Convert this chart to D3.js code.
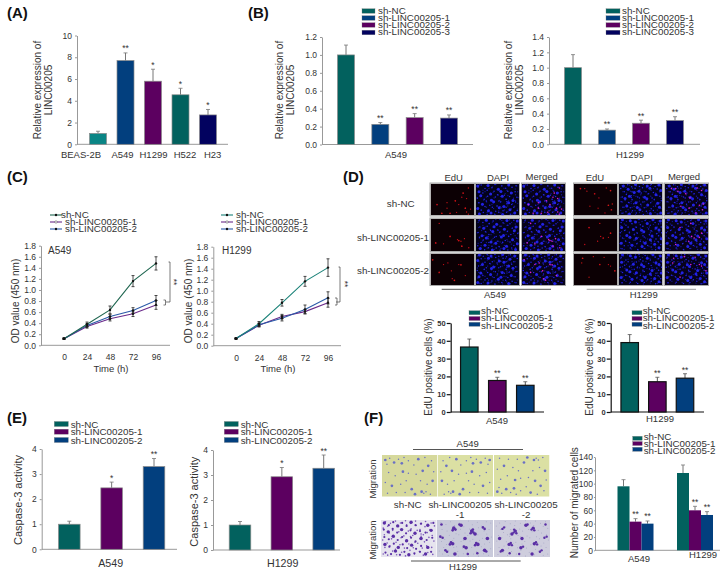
<!DOCTYPE html>
<html><head><meta charset="utf-8">
<script src="https://cdnjs.cloudflare.com/ajax/libs/d3/7.8.5/d3.min.js"></script>
<style>
html,body{margin:0;padding:0;background:#fff}
svg{display:block}
text{font-family:"Liberation Sans",Arial,sans-serif;fill:#333}
</style></head><body><svg id="c" width="720" height="583"></svg>
<script>
// ---------- data ----------
const cellLines = ["BEAS-2B","A549","H1299","H522","H23"];
const cellExpr = [1.0,7.7,5.8,4.55,2.7];
const cellExprTop = [1.2,8.4,6.9,5.15,3.2];
const cellStars = ["","**","*","*","*"];
const shThree = ["sh-NC","sh-LINC00205-1","sh-LINC00205-2","sh-LINC00205-3"];
const shTwo = ["sh-NC","sh-LINC00205-1","sh-LINC00205-2"];
const bA549 = [1.0,0.225,0.30,0.295];
const bA549Top = [1.11,0.245,0.345,0.33];
const bH1299 = [1.0,0.185,0.275,0.31];
const bH1299Top = [1.17,0.2,0.315,0.36];
const bStars = ["","**","**","**"];
const hours = [0,24,48,72,96];
const odA549 = [[0.12,0.38,0.64,1.16,1.48],[0.12,0.34,0.48,0.57,0.73],[0.12,0.36,0.52,0.63,0.81]];
const odA549Err = [[0.01,0.04,0.07,0.10,0.12],[0.01,0.03,0.04,0.05,0.08],[0.01,0.03,0.04,0.05,0.09]];
const odH1299 = [[0.13,0.40,0.78,1.17,1.42],[0.13,0.37,0.53,0.62,0.78],[0.13,0.38,0.50,0.66,0.87]];
const odH1299Err = [[0.01,0.04,0.06,0.09,0.16],[0.01,0.03,0.04,0.04,0.08],[0.01,0.03,0.05,0.08,0.11]];
const eduA549 = [36.5,17.7,15];
const eduA549Top = [41,19.5,17];
const eduH1299 = [39,17,19];
const eduH1299Top = [43.5,19.5,21.5];
const twoStars = ["","**","**"];
const casA549 = [1.0,2.45,3.3];
const casA549Top = [1.12,2.68,3.62];
const casH1299 = [1.0,2.93,3.27];
const casH1299Top = [1.14,3.3,3.8];
const casStars = ["","*","**"];
const migCells = [[96,43,40],[116,60,53]];
const migTop = [[106,47.5,44],[128,66,58]];
const migGroups = ["A549","H1299"];
const migStars = ["","**","**"];
const redA0=[[15,66],[38,77],[38,60],[57,54],[72,43],[83,47],[80,77],[83,89],[87,96],[45,93],[65,66],[87,14],[26,93],[60,90],[92,80],[75,30]];
const redA1=[[12,75],[30,78],[62,65],[65,68],[70,70],[78,62],[72,85],[88,90],[20,15],[45,55]];
const redA2=[[5,20],[30,35],[65,35],[70,36],[48,55],[50,80],[20,60],[80,70],[40,30],[55,85]];
const redH0=[[15,16],[25,16],[30,24],[48,32],[58,45],[75,14],[85,22],[89,64],[56,77],[87,82],[72,92],[37,71],[80,68]];
const redH1=[[35,28],[60,15],[62,55],[68,60],[80,58],[55,70],[85,45],[25,80]];
const redH2=[[20,15],[18,30],[45,10],[60,35],[80,35],[85,40],[95,55],[35,75],[70,12]];
const blueField=[[4,8],[12,5],[21,16],[28,6],[37,13],[44,3],[52,18],[60,8],[69,15],[76,5],[84,12],[93,7],[7,26],[16,30],[26,21],[34,33],[42,24],[50,35],[58,25],[66,37],[74,24],[82,30],[91,26],[3,46],[11,38],[19,49],[27,40],[36,52],[45,42],[53,55],[61,40],[70,49],[78,41],[86,53],[95,43],[6,60],[15,65],[24,55],[32,68],[41,57],[49,70],[57,58],[65,72],[72,56],[72,62],[76,60],[83,66],[92,58],[4,78],[12,83],[21,72],[29,85],[38,74],[46,87],[54,76],[63,85],[70,74],[79,82],[88,74],[96,84],[8,95],[17,91],[26,97],[35,92],[44,98],[53,91],[62,97],[71,90],[80,96],[90,92]];
const violetField=[[6,12],[14,8],[9,22],[22,18],[30,10],[40,6],[36,20],[48,14],[58,24],[66,10],[78,6],[90,14],[84,26],[12,42],[24,50],[38,40],[48,44],[62,46],[74,38],[94,40],[6,66],[18,74],[34,70],[44,62],[54,82],[70,62],[82,70],[92,62],[10,92],[26,90],[72,88],[76,92],[80,88],[60,94],[88,94],[42,90]];
const purpleDense=[[6,8],[14,14],[22,6],[30,16],[38,8],[46,16],[54,6],[62,14],[72,10],[84,14],[94,8],[5,26],[13,32],[21,24],[29,34],[37,26],[45,36],[53,28],[61,36],[70,30],[80,34],[90,28],[6,46],[14,52],[22,44],[30,54],[38,46],[46,56],[54,48],[62,58],[72,50],[82,54],[92,48],[7,66],[15,72],[23,64],[31,74],[39,66],[47,76],[55,68],[63,78],[72,70],[84,74],[8,88],[18,92],[26,84],[34,94],[42,86],[50,94],[60,90],[70,86],[80,92],[90,86]];
const purpleClusters=[[30,22],[33,26],[28,28],[62,30],[65,34],[60,36],[68,38],[64,26],[25,60],[28,64],[23,66],[70,62],[73,66],[68,68],[48,72],[52,75],[15,82],[18,86],[85,82],[88,85],[40,12],[43,14],[82,20],[85,24],[90,50],[6,45],[10,48],[50,50],[8,12],[55,92],[32,92],[72,90]];

// ---------- palette / helpers ----------
const teal="#02615e",blue="#023f7e",purple="#5c0060",navy="#02025f",cyan="#0a8585";
const palette4=[teal,blue,purple,navy];
const palette3=[teal,purple,blue];
const svg=d3.select("#c");
const FONT=9.8;

function label(t,x,y,o={}){
  const e=svg.append("text").text(t).attr("x",x).attr("y",y)
    .attr("text-anchor",o.anchor||"middle").attr("font-size",o.size||FONT);
  if(o.bold)e.attr("font-weight","bold").style("fill","#111");
  if(o.rot)e.attr("transform",`rotate(-90 ${x} ${y})`);
  return e;
}
function yLabel(lines,x,y,size){
  lines.forEach((l,i)=>label(l,x+i*11,y,{rot:true,size:size||10}));
}
function legend(names,colors,o){
  names.forEach((n,i)=>{
    const sy=o.sy[i];
    svg.append("rect").attr("x",o.x0).attr("y",sy-o.h/2).attr("width",o.w).attr("height",o.h)
       .attr("fill",colors[i]).attr("stroke","#777").attr("stroke-width",.3);
    label(n,o.tx,o.ty[i]+3.5,{anchor:"start"});
  });
}
function styleAxis(g,col,w,size){
  g.selectAll("text").style("font-size",size+"px").style("font-family",'"Liberation Sans",Arial,sans-serif').style("fill","#333");
  g.selectAll("path,line").attr("stroke",col).attr("stroke-width",w);
}
function barPanel(o){
  const y=d3.scaleLinear().domain([0,o.max]).range([o.y0,o.yTop]);
  const x=d3.scalePoint().domain(o.names).range([o.first,o.last]);
  const ax=svg.append("g").attr("transform",`translate(${o.ax},0)`)
    .call(d3.axisLeft(y).tickValues(o.ticks).tickFormat(o.fmt).tickSize(o.tick||2).tickPadding(o.pad||3).tickSizeOuter(0));
  styleAxis(ax,o.axisCol||"#999",o.axisW||1,o.fs||8.5);
  if(o.boldTicks)ax.selectAll("text").style("font-weight","bold");
  svg.append("line").attr("x1",o.ax).attr("x2",o.end).attr("y1",o.y0).attr("y2",o.y0)
     .attr("stroke",o.axisCol||"#999").attr("stroke-width",o.axisW||1);
  svg.selectAll(null).data(o.names).enter().append("line")
     .attr("x1",d=>x(d)).attr("x2",d=>x(d)).attr("y1",(d,i)=>y(o.top[i])).attr("y2",(d,i)=>y(o.values[i]))
     .attr("stroke",o.errCol||"#777").attr("stroke-width",1);
  svg.selectAll(null).data(o.names).enter().append("line")
     .attr("x1",d=>x(d)-2).attr("x2",d=>x(d)+2).attr("y1",(d,i)=>y(o.top[i])).attr("y2",(d,i)=>y(o.top[i]))
     .attr("stroke",o.errCol||"#777").attr("stroke-width",.8);
  svg.selectAll(null).data(o.names).enter().append("rect")
     .attr("x",d=>x(d)-o.bw/2).attr("width",o.bw)
     .attr("y",(d,i)=>y(o.values[i])).attr("height",(d,i)=>o.y0-y(o.values[i]))
     .attr("fill",(d,i)=>o.colors[i]).attr("stroke",o.stroke||"#8a8a8a").attr("stroke-width",o.sw||.7);
  svg.selectAll(null).data(o.names).enter().append("text")
     .attr("x",d=>x(d)).attr("y",(d,i)=>y(o.top[i])-(o.starGap||1.5)).attr("text-anchor","middle")
     .attr("font-size",8.5).text((d,i)=>o.stars[i]);
  return {x,y};
}
const f0=d3.format("d"),f1=d3.format(".1f");

// ---------- panel letters ----------
[["(A)",7,18],["(B)",248,18],["(C)",7,182],["(D)",343,182],["(E)",7,423],["(F)",364,423]]
  .forEach(p=>label(p[0],p[1],p[2],{anchor:"start",size:15,bold:true}));

// ---------- A ----------
const pa=barPanel({names:cellLines,values:cellExpr,top:cellExprTop,stars:cellStars,colors:[cyan,blue,purple,teal,navy],
  ax:77,end:228,y0:144.3,yTop:35.5,max:10,ticks:d3.range(0,11,2),fmt:f0,first:98,last:208,bw:17});
const cellLabelOffset=[-17,-3,0.5,4.5,4.7];
cellLines.forEach((c,i)=>label(c,pa.x(c)+cellLabelOffset[i],158,{size:9.5}));
yLabel(["Relative expression of","LINC00205"],41,90);

// ---------- B ----------
barPanel({names:shThree,values:bA549,top:bA549Top,stars:bStars,colors:palette4,
  ax:322,end:473,y0:144.5,yTop:37,max:1.2,ticks:d3.range(0,1.21,.2),fmt:f1,first:346,last:449,bw:17});
label("A549",396,158,{size:9.5});
yLabel(["Relative expression of","LINC00205"],283,90);
legend(shThree,palette4,{x0:362,w:13,h:4.5,tx:378,sy:[11,18,25,32.5],ty:[10.5,17.5,24.5,31.5]});
barPanel({names:shThree,values:bH1299,top:bH1299Top,stars:bStars,colors:palette4,
  ax:549,end:700,y0:144.3,yTop:37,max:1.4,ticks:d3.range(0,1.41,.2),fmt:f1,first:573,last:675,bw:17});
label("H1299",630,158,{size:9.5});
yLabel(["Relative expression of","LINC00205"],512,90);
legend(shThree,palette4,{x0:606,w:14,h:4.5,tx:622,sy:[11,18,25,32.5],ty:[10.5,17.5,24.5,31.5]});

// ---------- C ----------
function linePanel(o){
  const y=d3.scaleLinear().domain([0,1.8]).range([o.y0,o.yTop]);
  const x=d3.scaleLinear().domain([0,96]).range([o.x0,o.x1]);
  const ax=svg.append("g").attr("transform",`translate(${o.ax},0)`)
    .call(d3.axisLeft(y).tickValues(d3.range(0,1.81,.2)).tickFormat(f1).tickSize(2).tickSizeOuter(0));
  styleAxis(ax,"#999",1,8.5);
  svg.append("line").attr("x1",o.ax).attr("x2",o.end).attr("y1",o.y0).attr("y2",o.y0).attr("stroke","#999");
  const bx=svg.append("g").attr("transform",`translate(0,${o.y0})`)
    .call(d3.axisBottom(x).tickValues(hours).tickFormat(f0).tickSize(0).tickPadding(9));
  bx.select(".domain").remove();
  styleAxis(bx,"#999",1,8.5);
  const line=d3.line().x((d,i)=>x(hours[i])).y(d=>y(d));
  [1,2,0].forEach(k=>{
    svg.append("path").attr("d",line(o.vals[k])).attr("fill","none").attr("stroke",o.cols[k]).attr("stroke-width",1.1);
    o.vals[k].forEach((v,i)=>{
      const cx=x(hours[i]),t=y(v+o.errs[k][i]),b=y(v-o.errs[k][i]);
      svg.append("path").attr("d",`M${cx-1.5},${t}H${cx+1.5}M${cx},${t}V${b}M${cx-1.5},${b}H${cx+1.5}`)
         .attr("stroke","#222").attr("stroke-width",.8).attr("fill","none");
      svg.append("circle").attr("cx",cx).attr("cy",y(v)).attr("r",1.2).attr("fill","#111");
    });
  });
  label("Time (h)",o.tx,371.5,{size:9.5});
  label("OD value (450 nm)",o.lx,301,{rot:true,size:10});
  label(o.name,o.nx,254,{anchor:"start",size:10});
  shTwo.forEach((n,i)=>{
    const ly=o.lgY+i*7;
    svg.append("line").attr("x1",o.lg).attr("x2",o.lg+12).attr("y1",ly).attr("y2",ly).attr("stroke",o.cols[i]).attr("stroke-width",1.1);
    svg.append("circle").attr("cx",o.lg+6).attr("cy",ly).attr("r",1.2)
       .attr("fill",i==1?"#fff":"#111").attr("stroke",i==1?"#444":"none").attr("stroke-width",.5);
    label(n,o.tl[i],ly+2.5,{anchor:"start"});
  });
  const b=o.br;
  svg.append("path").attr("d",`M${b.ox-1.5},${b.ot}H${b.ox}V${b.ob}H${b.ox-4}`).attr("fill","none").attr("stroke","#444").attr("stroke-width",.7);
  svg.append("path").attr("d",`M${b.ix-2},${b.it}H${b.ix}V${b.ib}H${b.ix-2}`).attr("fill","none").attr("stroke","#444").attr("stroke-width",.7);
  const s=label("**",b.sx,b.sy,{size:8.5});
  s.attr("transform",`rotate(90 ${b.sx} ${b.sy})`);
}
const lineColsA=["#1f6650","#6a2a8a","#2a5aa8"],lineColsH=["#1a8278","#6a2a8a","#2a5aa8"];
linePanel({vals:odA549,errs:odA549Err,cols:lineColsA,ax:41,end:170,y0:345.3,yTop:245.7,x0:64,x1:156,
  tx:111,lx:19,name:"A549",nx:48,lg:50,lgY:215,tl:[61,65,65],
  br:{ox:170,ot:262,ob:302,ix:165.5,it:300,ib:305,sx:171,sy:282}});
linePanel({vals:odH1299,errs:odH1299Err,cols:lineColsH,ax:213.3,end:341,y0:345.7,yTop:246.7,x0:236,x1:328,
  tx:278,lx:192,name:"H1299",nx:222,lg:221,lgY:215,tl:[236,236,236],
  br:{ox:340,ot:267,ob:302,ix:337,it:298,ib:305,sx:342,sy:284}});

// ---------- micrographs ----------
const defs=svg.append("defs");
defs.append("filter").attr("id","soft").append("feGaussianBlur").attr("stdDeviation",.45);
let clipId=0;
function photo(x,y,w,h,bg,layers,frame){
  const id="cl"+(clipId++);
  defs.append("clipPath").attr("id",id).append("rect").attr("width",w).attr("height",h);
  const g=svg.append("g").attr("transform",`translate(${x},${y})`);
  if(frame)svg.append("rect").attr("x",x-.5).attr("y",y-.5).attr("width",w+1).attr("height",h+1).attr("fill","none").attr("stroke","#aaa").attr("stroke-width",1);
  const inner=g.append("g").attr("clip-path",`url(#${id})`);
  inner.append("rect").attr("width",w).attr("height",h).attr("fill",bg);
  const pts=inner.append("g").attr("filter","url(#soft)");
  layers.forEach(l=>{
    pts.selectAll(null).data(l.pts).enter().append("circle")
      .attr("cx",d=>{const v=l.flipX?100-d[0]:d[0];return (l.swap?d[1]:v)*w/100;})
      .attr("cy",d=>{const v=l.flipY?100-d[1]:d[1];return (l.swap?d[0]:v)*h/100;})
      .attr("r",(d,i)=>l.r+(i%3==0?l.dr||0:0)).attr("fill",l.c).attr("opacity",l.o||1);
  });
}
const dCols=[[430.5,43.5],[476,43],[522,43]],dColsH=[[574,43],[619,43.5],[665,43]];
const dRows=[[183.5,32],[218.5,32.5],[253.5,31.5]];
const redsA=[redA0,redA1,redA2],redsH=[redH0,redH1,redH2];
const flips=[{},{flipX:true},{flipY:true},{flipX:true,flipY:true},{swap:true},{swap:true,flipX:true}];
function microRow(cols,reds,off){
  dRows.forEach((r,i)=>{
    const fl=flips[(i+off)%6];
    const under={pts:blueField,c:"#15158c",r:.7,...flips[(i+off+4)%6]};
    const over={pts:blueField,c:"#2222e6",r:.75,dr:.75,...fl};
    photo(cols[0][0],r[0],cols[0][1],r[1],"#0c0004",[{pts:reds[i],c:"#d01218",r:.65,dr:.2}],true);
    photo(cols[1][0],r[0],cols[1][1],r[1],"#03021a",[under,over],true);
    photo(cols[2][0],r[0],cols[2][1],r[1],"#07021a",[under,over,{pts:reds[i],c:"#d820c8",r:.8}],true);
  });
}
microRow(dCols,redsA,0);
microRow(dColsH,redsH,3);
[["EdU",453.7,181],["DAPI",498,181],["Merged",541.7,180],["EdU",595,181],["DAPI",641.7,181],["Merged",684,180]]
  .forEach(t=>label(t[0],t[1],t[2],{size:9.5}));
label("sh-NC",400.7,206.5);
label("sh-LINC00205-1",357,240.5,{anchor:"start"});
label("sh-LINC00205-2",357,274,{anchor:"start"});
svg.append("line").attr("x1",441.7).attr("x2",551).attr("y1",289.3).attr("y2",289.3).attr("stroke","#555");
svg.append("line").attr("x1",586.7).attr("x2",696).attr("y1",289.3).attr("y2",289.3).attr("stroke","#999");
label("A549",495,298,{size:9.5});
label("H1299",643.7,298,{size:9.5});

// ---------- D bars ----------
const dBase={names:shTwo,colors:palette3,y0:412,yTop:323,max:50,ticks:d3.range(0,51,10),fmt:f0,bw:17.5,
  stroke:"#111",sw:1.2,axisCol:"#111",axisW:1.2,errCol:"#555",fs:7.5,boldTicks:true,tick:4,pad:1,starGap:1};
barPanel({...dBase,values:eduA549,top:eduA549Top,stars:twoStars,ax:450.7,end:544,first:469.3,last:525.3});
barPanel({...dBase,values:eduH1299,top:eduH1299Top,stars:twoStars,ax:610.7,end:704,first:629.7,last:685});
label("EdU positive cells (%)",432,367,{rot:true,size:10});
label("EdU positive cells (%)",593,367,{rot:true,size:10});
label("A549",497,424,{size:9.5});
label("H1299",660,422,{size:9.5});
legend(shTwo,palette3,{x0:469,w:11,h:4,tx:481,sy:[312.7,318.5,324.3],ty:[310.7,317.7,325]});
legend(shTwo,palette3,{x0:632,w:10,h:4,tx:642.7,sy:[312.7,318.5,324.3],ty:[310.7,317.7,325]});

// ---------- E ----------
const eBase={names:shTwo,colors:palette3,max:4,ticks:d3.range(0,5),fmt:f0,bw:21.6,stars:casStars,pad:3};
barPanel({...eBase,values:casA549,top:casA549Top,ax:41.7,end:177,y0:549.3,yTop:449,first:69.3,last:154});
barPanel({...eBase,values:casH1299,top:casH1299Top,ax:213,end:340,y0:550,yTop:450,first:240,last:323.7});
label("A549",110.7,566.7,{size:10.7});
label("H1299",282.7,567,{size:10.7});
label("Caspase-3 activity",22,500,{rot:true,size:11});
label("Caspase-3 activity",198,501.7,{rot:true,size:11});
legend(shTwo,palette3,{x0:54.3,w:14,h:5,tx:70.7,sy:[424,431.7,440],ty:[424,431.7,440]});
legend(shTwo,palette3,{x0:224.3,w:14,h:5,tx:240.7,sy:[424,431.7,440],ty:[424,431.7,440]});

// ---------- F photos ----------
const fX=[[382,55],[437.5,55.5],[494,55.5]];
fX.forEach((c,i)=>photo(c[0],455,c[1],41.7,i==0?"#d6d99c":"#dbe0a3",[{pts:violetField,c:"#6a70c4",r:.75,dr:.6,...flips[i]}],false));
photo(381,520,55.7,37,"#e6e4ee",[{pts:blueField,c:"#7a58b8",r:.8,...flips[2]},{pts:purpleDense,c:"#5a2fa5",r:1.1,dr:.6}],false);
photo(437,520,56,37,"#c9cadb",[{pts:blueField,c:"#a6a6c4",r:.5,...flips[1]},{pts:purpleClusters,c:"#5a2fa5",r:1.3,dr:.5}],false);
photo(494,520,56,37,"#cecddd",[{pts:blueField,c:"#a6a6c4",r:.5,...flips[3]},{pts:purpleClusters,c:"#5a2fa5",r:1.2,dr:.5,flipX:true}],false);
label("A549",467.7,447.3,{size:9.5});
svg.append("line").attr("x1",413).attr("x2",523).attr("y1",449.5).attr("y2",449.5).attr("stroke","#555");
svg.append("line").attr("x1",411).attr("x2",520.7).attr("y1",561).attr("y2",561).attr("stroke","#555");
label("H1299",463,570,{size:9.5});
label("Migration",376,479,{rot:true,size:9.5});
label("Migration",376,540,{rot:true,size:9.5});
label("sh-NC",407.7,508);
label("sh-LINC00205",460,508);
label("-1",460,517.5);
label("sh-LINC00205",526,508);
label("-2",526,517.5);

// ---------- F bars ----------
const fy=d3.scaleLinear().domain([0,140]).range([550.3,457]);
const fax=svg.append("g").attr("transform","translate(595,0)")
  .call(d3.axisLeft(fy).tickValues(d3.range(0,141,20)).tickFormat(f0).tickSize(1).tickPadding(1).tickSizeOuter(0));
styleAxis(fax,"#999",1,8.5);
svg.append("line").attr("x1",595).attr("x2",720).attr("y1",550.3).attr("y2",550.3).attr("stroke","#999");
const fGroup=d3.scalePoint().domain(migGroups).range([635.5,695]);
const fBar=d3.scaleBand().domain(shTwo).range([-18,18]).padding(0);
migGroups.forEach((g,gi)=>{
  shTwo.forEach((s,si)=>{
    const cx=fGroup(g)+fBar(s)+fBar.bandwidth()/2;
    svg.append("line").attr("x1",cx).attr("x2",cx).attr("y1",fy(migTop[gi][si])).attr("y2",fy(migCells[gi][si])).attr("stroke","#777");
    svg.append("line").attr("x1",cx-2).attr("x2",cx+2).attr("y1",fy(migTop[gi][si])).attr("y2",fy(migTop[gi][si])).attr("stroke","#777").attr("stroke-width",.8);
    svg.append("rect").attr("x",cx-fBar.bandwidth()/2).attr("width",fBar.bandwidth())
       .attr("y",fy(migCells[gi][si])).attr("height",550.3-fy(migCells[gi][si])).attr("fill",palette3[si]);
    svg.append("text").attr("x",cx).attr("y",fy(migTop[gi][si])-1.5).attr("text-anchor","middle").attr("font-size",8.5).text(migStars[si]);
  });
});
label("Number of migrated cells",578,502.7,{rot:true,size:10});
label("A549",639,561.7,{size:9.5});
label("H1299",703,558,{size:9.5});
legend(shTwo,palette3,{x0:632.7,w:9.5,h:4,tx:643.7,sy:[438.3,443.5,449.3],ty:[436,443.5,450]});
</script></body></html>
